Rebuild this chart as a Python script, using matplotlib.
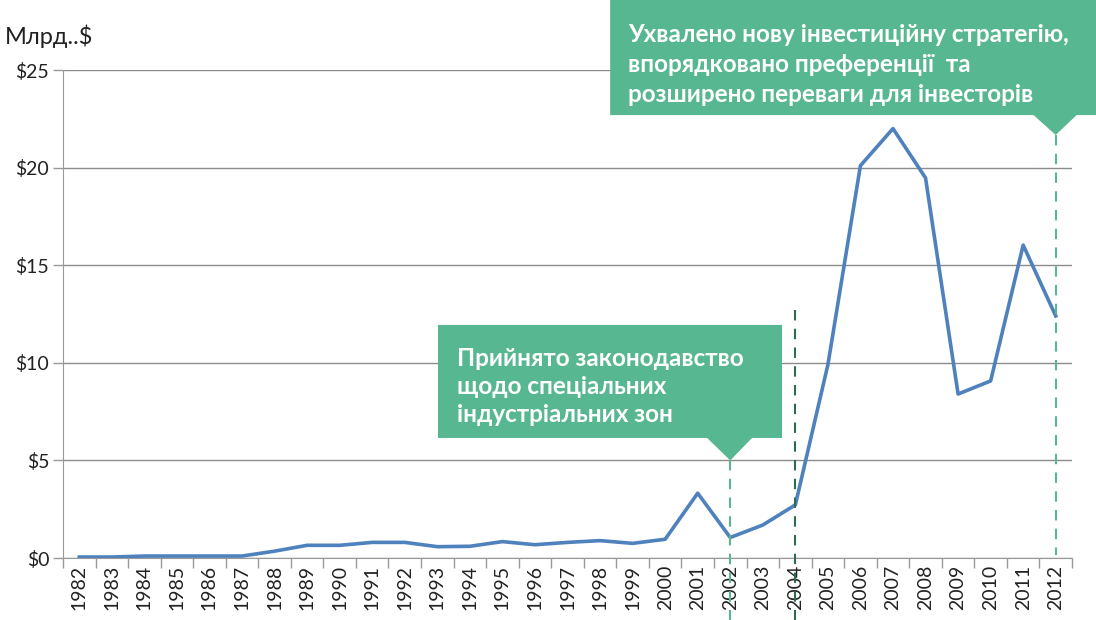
import matplotlib
matplotlib.use("Agg")
import matplotlib.pyplot as plt
from matplotlib.patches import Polygon
from matplotlib.ticker import FixedLocator, FuncFormatter

years = list(range(1982, 2013))
values = [0.05, 0.05, 0.1, 0.1, 0.1, 0.1, 0.35, 0.65, 0.65, 0.8, 0.8,
          0.58, 0.6, 0.84, 0.68, 0.8, 0.89, 0.75, 0.96, 3.32, 1.05,
          1.69, 2.72, 9.9, 20.1, 22.0, 19.47, 8.4, 9.07, 16.03, 12.4]
y_ticks = [0, 5, 10, 15, 20, 25]
y_label = "Млрд..$"
note1 = "Прийнято законодавство\nщодо спеціальних\nіндустріальних зон"
note2 = "Ухвалено нову інвестиційну стратегію,\nвпорядковано преференції  та\nрозширено переваги для інвесторів"

plt.rcParams['font.family'] = ['Lato', 'DejaVu Sans']

fig = plt.figure(figsize=(10.96, 6.2), dpi=100)
ax = fig.add_axes([63/1096, 62/620, (1072-63)/1096, (558-70)/620])

x = list(range(len(years)))
ax.plot(x, values, color='#4F81BD', lw=2.6, solid_joinstyle='round', zorder=3)

ax.set_xlim(-0.5, len(years) - 0.5)
ax.set_ylim(0, 25)
ax.set_xticks(x)
ax.set_xticklabels([str(y) for y in years], rotation=90, fontsize=14, color='#222222')
ax.xaxis.set_minor_locator(FixedLocator([i - 0.5 for i in range(len(years) + 1)]))
ax.tick_params(axis='x', which='major', length=0, pad=5)
ax.tick_params(axis='x', which='minor', length=7, color='#999999', width=1)
ax.set_yticks(y_ticks)
ax.yaxis.set_major_formatter(FuncFormatter(lambda v, p: f"${v:.0f}"))
ax.tick_params(axis='y', length=7, color='#999999', width=1, labelsize=14, labelcolor='#222222', pad=3)
ax.grid(axis='y', color='#8c8c8c', lw=1)
ax.set_axisbelow(True)
for s in ['top', 'right']:
    ax.spines[s].set_visible(False)
ax.spines['left'].set_color('#999999')
ax.spines['bottom'].set_color('#999999')

fig.text(5/1096, 1 - 36/620, y_label, fontsize=17, color='#222222', va='center', ha='left')

green = '#57B791'
# Callout 1 (2002)
i02 = years.index(2002)
box1 = [(11.02, 11.94), (21.59, 11.94), (21.59, 6.15), (i02 + 0.67, 6.15), (i02, 5.0),
        (i02 - 0.71, 6.15), (11.02, 6.15)]
ax.add_patch(Polygon(box1, closed=True, facecolor=green, edgecolor='none', clip_on=False, zorder=5))
ax.text(11.62, 8.8, note1, color='white', fontsize=17.5, fontweight='bold', ha='left', va='center',
        linespacing=1.27, zorder=6, clip_on=False)
ax.plot([i02, i02], [5.0, -3.2], color=green, lw=1.5, ls=(0, (5, 4)), clip_on=False, zorder=4)

# dark dashed at 2004
i04 = years.index(2004)
ax.plot([i04, i04], [12.7, -3.2], color='#2E6B4F', lw=1.5, ls=(0, (5, 4)), clip_on=False, zorder=4)

# Callout 2 (2012)
i12 = years.index(2012)
box2 = [(16.31, 28.7), (31.3, 28.7), (31.3, 22.69), (i12 + 0.64, 22.69), (i12, 21.67),
        (i12 - 0.68, 22.69), (16.31, 22.69)]
ax.add_patch(Polygon(box2, closed=True, facecolor=green, edgecolor='none', clip_on=False, zorder=5))
ax.text(16.85, 25.3, note2, color='white', fontsize=17.5, fontweight='bold', ha='left', va='center',
        linespacing=1.37, zorder=6, clip_on=False)
ax.plot([i12, i12], [21.67, 0.15], color=green, lw=1.5, ls=(0, (5, 4)), clip_on=False, zorder=4)

fig.savefig("out.png", dpi=100)
